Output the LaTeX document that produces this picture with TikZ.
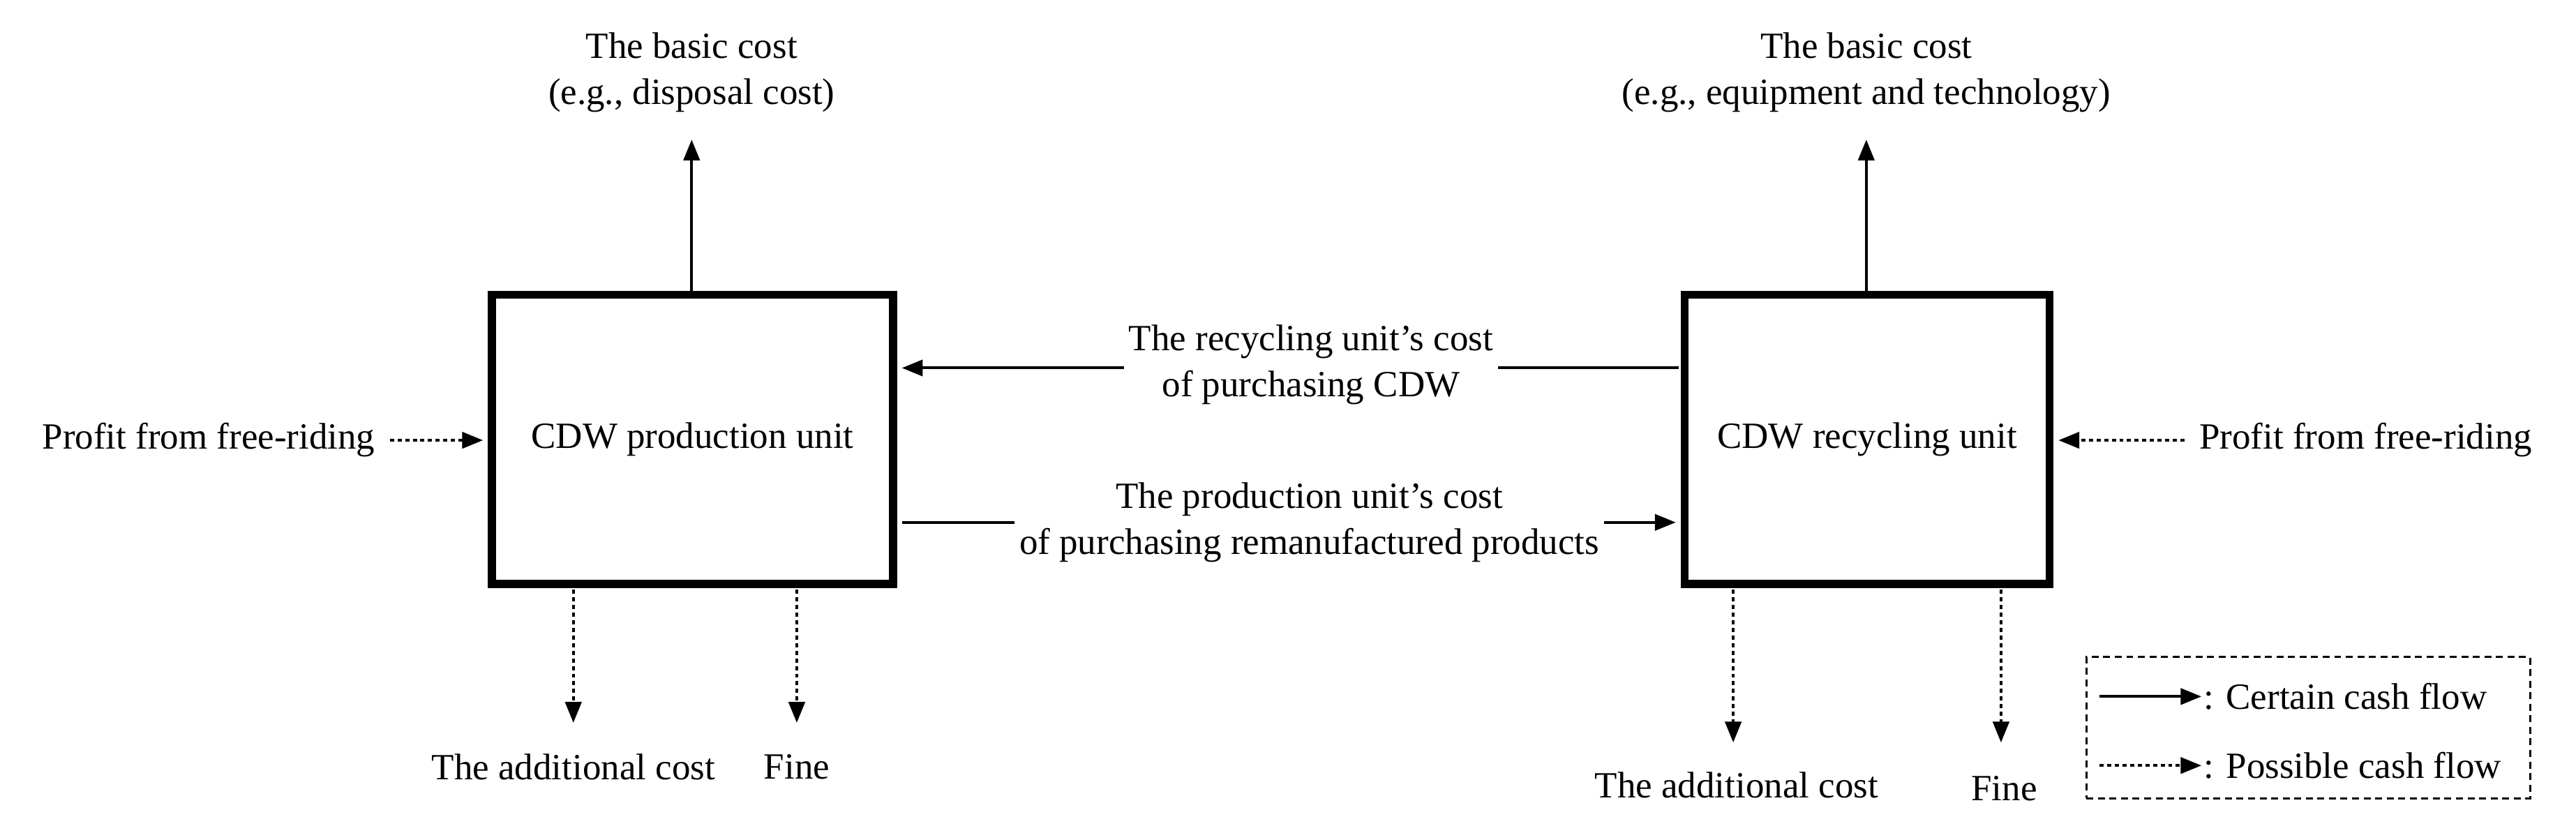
\documentclass[tikz,border=0pt]{standalone}
\usepackage{fontspec}
\setmainfont{Liberation Serif}
\usetikzlibrary{arrows.meta}
\begin{document}
\begin{tikzpicture}[x=0.025cm,y=-0.025cm,
  box/.style={draw,line width=3.5pt,minimum width=6.0cm,minimum height=4.35cm,inner sep=0pt},
  lbl/.style={font=\fontsize{16}{20}\selectfont,align=center,inner sep=2pt},
  flow/.style={line width=1.2pt,-{Triangle[length=9pt,width=7pt]}},
  poss/.style={flow,dash pattern=on 1.8pt off 1.5pt}]
\useasboundingbox (0,0) rectangle (1568,507);
\node[box,minimum width=6.1cm,minimum height=4.4cm] (P) at (421.5,267.5) {};
\node[lbl] at (P.center) {CDW production unit};
\node[box,minimum width=5.55cm,minimum height=4.4cm] (R) at (1136.5,267.5) {};
\node[lbl] at (R.center) {CDW recycling unit};
\node[lbl] (bl) at (421,44) {The basic cost\\(e.g., disposal cost)};
\node[lbl] (br) at (1136,44) {The basic cost\\(e.g., equipment and technology)};
\coordinate (blt) at (421,85); \coordinate (brt) at (1136,85);
\draw[flow] (421,178) -- (blt);
\draw[flow] (1136,178) -- (brt);
\coordinate (r1) at (1022,224); \coordinate (p1) at (549,224);
\draw[flow] (r1) -- (p1);
\node[lbl,fill=white] (t1) at (798,222) {The recycling unit's cost\\of purchasing CDW};
\coordinate (p2) at (549,318); \coordinate (r2) at (1020,318);
\draw[flow] (p2) -- (r2);
\node[lbl,fill=white] (t2) at (797,318) {The production unit's cost\\of purchasing remanufactured products};
\node[lbl] (pl) at (127,268) {Profit from free-riding};
\node[lbl] (pr) at (1440,268) {Profit from free-riding};
\draw[poss] (pl.east) ++(6,0) -- (294,268);
\draw[poss] (pr.west) ++(-6,0) -- (1253,268);
\node[lbl] (ac1) at (349,467) {The additional cost};
\node[lbl] (f1) at (485,467) {Fine};
\node[lbl] (ac2) at (1057,478) {The additional cost};
\node[lbl] (f2) at (1220,480) {Fine};
\draw[poss] (349,359) -- (349,440);
\draw[poss] (485,359) -- (485,440);
\draw[poss] (1055,359) -- (1055,452);
\draw[poss] (1218,359) -- (1218,452);
\node[draw,dash pattern=on 3pt off 2pt,line width=0.8pt,minimum width=6.75cm,minimum height=2.15cm] (leg) at (1405,443) {};
\coordinate (a1) at (1278,424); \coordinate (a2) at (1340,424);
\draw[flow] (a1) -- (a2);
\node[lbl,anchor=west,inner sep=0pt] (c1) at (1341,424) {: Certain cash flow};
\coordinate (b1) at (1278,466); \coordinate (b2) at (1340,466);
\draw[poss] (b1) -- (b2);
\node[lbl,anchor=west,inner sep=0pt] (c2) at (1341,466) {: Possible cash flow};
\end{tikzpicture}
\end{document}
